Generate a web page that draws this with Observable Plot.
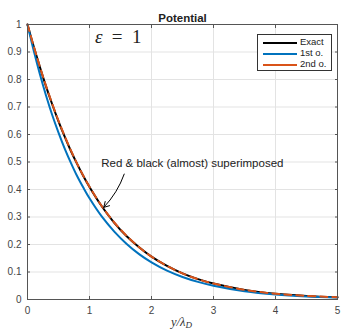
<!DOCTYPE html>
<html>
<head>
<meta charset="utf-8">
<script src="https://cdn.jsdelivr.net/npm/d3@7"></script>
<script src="https://cdn.jsdelivr.net/npm/@observablehq/plot@0.6"></script>
<style>
  html, body { margin: 0; padding: 0; background: #fff; }
  #wrap { position: relative; width: 341px; height: 330px; font-family: "Liberation Sans", Arial, sans-serif; }
  #legend { position: absolute; left: 257px; top: 34px; width: 75px; height: 37px; border: 1px solid #333; background: #fff; box-sizing: border-box; }
  .row { position: absolute; left: 0; height: 11px; width: 74px; }
  .sw { position: absolute; left: 5px; top: 5px; width: 34px; height: 2px; }
  .lab { position: absolute; left: 42px; top: -1px; font-size: 9.5px; color: #222; white-space: nowrap; }
  #xlabel { position: absolute; left: 0; width: 341px; top: 315px; text-align: center; padding-left: 22px; box-sizing: border-box; font-family: "Liberation Serif", "DejaVu Serif", serif; font-style: italic; font-size: 12.5px; color: #333; }
  #xlabel sub { font-size: 9px; vertical-align: -2px; }
</style>
</head>
<body>
<div id="wrap"></div>
<script>
// ---- data ----
const xs     = [0, 0.1, 0.2, 0.3, 0.4, 0.5, 0.6, 0.7, 0.8, 0.9, 1.0, 1.2, 1.4, 1.6, 1.8, 2.0, 2.25, 2.5, 2.75, 3.0, 3.5, 4.0, 4.5, 5.0];
const exact  = [1.000, 0.920, 0.845, 0.774, 0.709, 0.648, 0.592, 0.540, 0.493, 0.449, 0.409, 0.338, 0.279, 0.230, 0.190, 0.156, 0.122, 0.095, 0.074, 0.058, 0.035, 0.021, 0.013, 0.008];
const first  = [1.000, 0.905, 0.819, 0.741, 0.670, 0.607, 0.549, 0.497, 0.449, 0.407, 0.368, 0.301, 0.247, 0.202, 0.165, 0.135, 0.105, 0.082, 0.064, 0.050, 0.030, 0.018, 0.011, 0.007];
const second = [1.000, 0.921, 0.846, 0.776, 0.711, 0.650, 0.594, 0.542, 0.494, 0.450, 0.410, 0.339, 0.280, 0.231, 0.190, 0.156, 0.122, 0.095, 0.074, 0.058, 0.035, 0.021, 0.013, 0.008];
const seriesNames = ["Exact", "1st o.", "2nd o."];
const seriesColors = ["#000000", "#0072BD", "#D95319"];
const xTicks = [0, 1, 2, 3, 4, 5];
const yTicks = [0, 0.1, 0.2, 0.3, 0.4, 0.5, 0.6, 0.7, 0.8, 0.9, 1];
const titleText = "Potential";
const epsSymbol = "\u03B5";
const epsRest = "=\u20021";
const epsPos = {x: 1.09, y: 0.955};
const epsRestPos = {x: 1.36, y: 0.955};
const noteText = "Red & black (almost) superimposed";
const notePos = {x: 1.19, y: 0.495};
const arrowFrom = {x: 1.56, y: 0.456};
const arrowTo = {x: 1.23, y: 0.335};

const rowsE = xs.map((x, i) => ({x, y: exact[i]}));
const rows1 = xs.map((x, i) => ({x, y: first[i]}));
const rows2 = xs.map((x, i) => ({x, y: second[i]}));

const chart = Plot.plot({
  width: 341,
  height: 330,
  marginTop: 24,
  marginLeft: 27,
  marginRight: 4,
  marginBottom: 31,
  x: {domain: [0, 5]},
  y: {domain: [0, 1]},
  style: {fontFamily: "Liberation Sans, Arial, sans-serif", fontSize: "10px", color: "#444", background: "#fff"},
  marks: [
    Plot.gridX(xTicks, {stroke: "#e3e3e3", strokeOpacity: 1}),
    Plot.gridY(yTicks, {stroke: "#e3e3e3", strokeOpacity: 1}),
    Plot.line(rowsE, {x: "x", y: "y", stroke: seriesColors[0], strokeWidth: 2, curve: "catmull-rom"}),
    Plot.line(rows1, {x: "x", y: "y", stroke: seriesColors[1], strokeWidth: 2, curve: "catmull-rom"}),
    Plot.line(rows2, {x: "x", y: "y", stroke: seriesColors[2], strokeWidth: 2, strokeDasharray: "7,5", curve: "catmull-rom"}),
    Plot.frame({stroke: "#555"}),
    Plot.axisX(xTicks, {anchor: "bottom", tickSize: -3, tickPadding: 10, label: null, tickFormat: d => String(d), stroke: "#555"}),
    Plot.axisX(xTicks, {anchor: "top", tickSize: -3, label: null, tickFormat: () => "", stroke: "#555"}),
    Plot.axisY(yTicks, {anchor: "left", tickSize: -3, tickPadding: 9, label: null, tickFormat: d => String(d), stroke: "#555"}),
    Plot.axisY(yTicks, {anchor: "right", tickSize: -3, label: null, tickFormat: () => "", stroke: "#555"}),
    Plot.text([titleText], {text: d => d, frameAnchor: "top", dy: -11, fontWeight: "bold", fontSize: 11.5, fill: "#222"}),
    Plot.text([epsSymbol], {text: d => d, x: epsPos.x, y: epsPos.y, textAnchor: "start", fontFamily: "Liberation Serif, DejaVu Serif, serif", fontStyle: "italic", fontSize: 19, fill: "#222"}),
    Plot.text([epsRest], {text: d => d, x: epsRestPos.x, y: epsRestPos.y, textAnchor: "start", fontFamily: "Liberation Serif, DejaVu Serif, serif", fontSize: 19, fill: "#222"}),
    Plot.text([noteText], {text: d => d, x: notePos.x, y: notePos.y, textAnchor: "start", fontSize: 11.5, fill: "#222"}),
    Plot.arrow([0], {x1: () => arrowFrom.x, y1: () => arrowFrom.y, x2: () => arrowTo.x, y2: () => arrowTo.y, bend: 12, stroke: "#000", strokeWidth: 1, headLength: 9})
  ]
});

const wrap = document.getElementById("wrap");
wrap.appendChild(chart);

// legend
const legend = document.createElement("div");
legend.id = "legend";
seriesNames.forEach((name, i) => {
  const row = document.createElement("div");
  row.className = "row";
  row.style.top = (2 + i * 10.8) + "px";
  const sw = document.createElement("div");
  sw.className = "sw";
  sw.style.background = seriesColors[i];
  const lab = document.createElement("div");
  lab.className = "lab";
  lab.textContent = name;
  row.appendChild(sw);
  row.appendChild(lab);
  legend.appendChild(row);
});
wrap.appendChild(legend);

const xl = document.createElement("div");
xl.id = "xlabel";
xl.innerHTML = "y/λ<sub>D</sub>";
wrap.appendChild(xl);
</script>
</body>
</html>
